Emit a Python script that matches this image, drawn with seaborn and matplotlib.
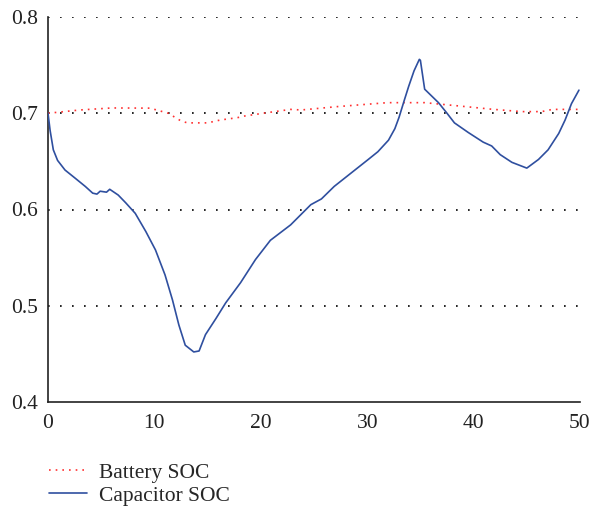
import matplotlib
matplotlib.use("Agg")
import matplotlib.pyplot as plt
import seaborn as sns
import pandas as pd
import numpy as np

# ---- data ----
cap_t = [0, 0.2, 0.5, 0.9, 1.6, 2.5, 3.5, 4.2, 4.6, 4.9, 5.5, 5.8, 6.6, 7.3, 8.2,
         9.2, 10.1, 11.0, 11.7, 12.3, 12.9, 13.7, 14.2, 14.8, 15.8, 16.7, 18.1,
         19.5, 20.9, 22.8, 24.7, 25.7, 26.9, 28.5, 30.1, 31.0, 32.0, 32.6, 33.0,
         33.5, 33.9, 34.4, 34.9, 35.0, 35.4, 36.7, 37.5, 38.2, 39.5, 40.9, 41.7,
         42.5, 43.6, 45.0, 46.1, 47.0, 48.0, 48.6, 49.2, 49.9]
cap_soc = [0.700, 0.682, 0.662, 0.651, 0.641, 0.633, 0.624, 0.617, 0.616, 0.619,
           0.618, 0.621, 0.615, 0.607, 0.596, 0.577, 0.558, 0.532, 0.506, 0.480,
           0.459, 0.452, 0.453, 0.470, 0.487, 0.503, 0.524, 0.548, 0.568, 0.584,
           0.605, 0.611, 0.624, 0.638, 0.652, 0.660, 0.672, 0.684, 0.696, 0.714,
           0.728, 0.744, 0.756, 0.755, 0.725, 0.711, 0.700, 0.690, 0.680, 0.670,
           0.666, 0.657, 0.649, 0.643, 0.652, 0.662, 0.679, 0.693, 0.710, 0.724]

bat_t = [0, 3.0, 6.0, 9.6, 11.3, 12.5, 13.1, 15.0, 16.2, 17.8, 18.4, 20.6, 22.8,
         23.8, 27.2, 31.9, 35.4, 38.6, 41.7, 44.5, 46.4, 47.4, 49.6, 50]
bat_soc = [0.700, 0.7034, 0.7055, 0.7053, 0.700, 0.692, 0.690, 0.690, 0.693,
           0.6954, 0.697, 0.7006, 0.704, 0.7034, 0.7069, 0.711, 0.711, 0.7076,
           0.7042, 0.7017, 0.7017, 0.704, 0.704, 0.704]

x_ticks = [0, 10, 20, 30, 40, 50]
y_ticks = [0.4, 0.5, 0.6, 0.7, 0.8]

sns.set_style("white")
plt.rcParams['font.family'] = ['Liberation Serif', 'DejaVu Serif']

fig = plt.figure(figsize=(5.9, 5.15), dpi=100)
ax = fig.add_axes([48/590, 1-402/515, (580-48)/590, (402-17)/515])

bat_df = pd.DataFrame({"t": bat_t, "soc": bat_soc})
cap_df = pd.DataFrame({"t": cap_t, "soc": cap_soc})

# grid lines (horizontal, dotted black)
for yv in y_ticks[1:]:
    ax.axhline(yv, color="black", lw=1.2, linestyle=(0, (1, 6.2)), zorder=1)

sns.lineplot(data=bat_df, x="t", y="soc", ax=ax, color="#ff3030", lw=1.2,
             linestyle=(0, (1, 3)), label="Battery SOC", zorder=3)
sns.lineplot(data=cap_df, x="t", y="soc", ax=ax, color="#2f4f9f", lw=1.2,
             label="Capacitor SOC", zorder=4)

ax.set_xlim(0, 50)
ax.set_ylim(0.4, 0.8)
ax.set_xticks(x_ticks)
ax.set_yticks(y_ticks)
ax.set_xticklabels([str(v) for v in x_ticks])
ax.set_yticklabels([f"{v:.1f}" for v in y_ticks])
ax.set_xlabel("")
ax.set_ylabel("")
for s in ["top", "right"]:
    ax.spines[s].set_visible(False)
for s in ["left", "bottom"]:
    ax.spines[s].set_color("#222222")
    ax.spines[s].set_linewidth(1.2)
ax.tick_params(axis="both", direction="in", length=4, width=1, labelsize=15.5,
               color="#222222", labelcolor="#222222")
ax.tick_params(axis="x", pad=9)
ax.tick_params(axis="y", length=0, pad=7)

leg = ax.legend(loc="upper left", bbox_to_anchor=(-0.0145, -0.135), frameon=False,
                fontsize=15.5, handlelength=1.75, handletextpad=0.6,
                labelspacing=0.15, borderaxespad=0)

fig.savefig("out.png", dpi=100)
